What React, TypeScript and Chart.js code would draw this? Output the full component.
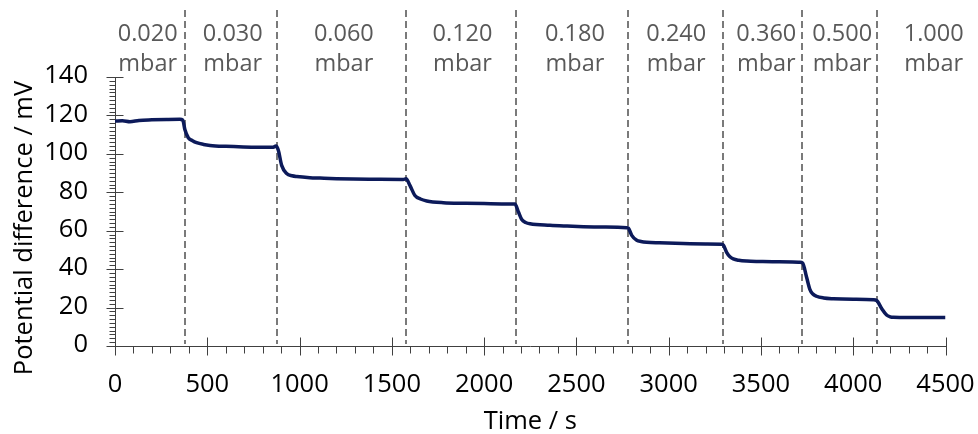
import React, { useEffect, useRef } from 'react';
import { Chart, registerables } from 'chart.js';

Chart.register(...registerables);

// ---- data ----
const times = [0, 40, 81, 130, 200, 280, 352, 367, 379, 397, 420, 442, 480, 515, 600, 695, 780, 858, 872, 885, 903, 930, 960, 985, 1056, 1111, 1200, 1291, 1400, 1562, 1577, 1598, 1625, 1655, 1689, 1779, 1900, 2000, 2140, 2167, 2186, 2204, 2225, 2249, 2357, 2450, 2538, 2650, 2773, 2782, 2800, 2827, 2850, 2881, 2950, 3079, 3200, 3287, 3296, 3314, 3332, 3350, 3380, 3423, 3495, 3600, 3711, 3726, 3747, 3765, 3780, 3801, 3840, 3892, 4000, 4109, 4127, 4154, 4181, 4200, 4217, 4300, 4400, 4500];
const potential = [117.1, 117.2, 116.7, 117.4, 117.7, 117.9, 118.0, 117.6, 112.5, 108.4, 106.8, 105.8, 104.9, 104.4, 103.9, 103.6, 103.5, 103.5, 104.1, 101.9, 94.0, 89.8, 88.6, 88.2, 87.6, 87.4, 87.1, 86.9, 86.8, 86.7, 87.0, 83.6, 78.3, 76.5, 75.5, 74.6, 74.3, 74.1, 73.9, 73.9, 69.7, 65.8, 64.3, 63.6, 62.8, 62.4, 62.1, 61.9, 61.6, 61.3, 57.6, 55.0, 54.4, 54.0, 53.7, 53.3, 53.1, 53.0, 52.6, 48.7, 46.4, 45.3, 44.6, 44.2, 44.0, 43.8, 43.6, 43.2, 35.9, 29.5, 27.2, 25.9, 25.0, 24.6, 24.3, 24.1, 23.7, 19.5, 16.1, 15.2, 14.9, 14.8, 14.8, 14.8];
const boundaries = [379, 876, 1578, 2172, 2782, 3296, 3725, 4130];
const pressureLabels = ['0.020', '0.030', '0.060', '0.120', '0.180', '0.240', '0.360', '0.500', '1.000'];
const pressureUnit = 'mbar';
const labelTimes = [177, 638, 1240, 1883, 2492, 3041, 3529, 3940, 4436];
const xMin = 0, xMax = 4500, xStep = 500, xMinorStep = 100;
const yMin = 0, yMax = 140, yStep = 20, yMinorStep = 2;
const xTitle = 'Time / s';
const yTitle = 'Potential difference / mV';

const FONT = "'Open Sans', sans-serif";
const AXIS = '#404040';

const overlay = {
  id: 'overlay',
  beforeDatasetsDraw(chart: any) {
    const { ctx, chartArea, scales } = chart;
    const xs = scales.x;
    ctx.save();
    ctx.strokeStyle = '#7a7a7a';
    ctx.lineWidth = 2;
    ctx.setLineDash([7, 4]);
    boundaries.forEach((b) => {
      const px = Math.round(xs.getPixelForValue(b));
      ctx.beginPath();
      ctx.moveTo(px, 10);
      ctx.lineTo(px, chartArea.bottom - 2);
      ctx.stroke();
    });
    ctx.restore();
  },
  afterDraw(chart: any) {
    const { ctx, chartArea, scales } = chart;
    const xs = scales.x, ys = scales.y;
    ctx.save();
    ctx.strokeStyle = AXIS;
    ctx.lineWidth = 1;
    const L = chartArea.left, B = chartArea.bottom;
    for (let v = yMin; v <= yMax + 1e-9; v += yMinorStep) {
      const py = Math.round(ys.getPixelForValue(v)) + 0.5;
      const major = Math.abs(v / yStep - Math.round(v / yStep)) < 1e-6;
      ctx.beginPath();
      ctx.moveTo(Math.round(L) + 0.5 - (major ? 9 : 6), py);
      ctx.lineTo(Math.round(L) + 0.5 + (major ? 8 : 0), py);
      ctx.stroke();
    }
    for (let v = xMin; v <= xMax + 1e-9; v += xMinorStep) {
      const px = Math.round(xs.getPixelForValue(v)) + 0.5;
      const major = Math.abs(v / xStep - Math.round(v / xStep)) < 1e-6;
      ctx.beginPath();
      ctx.moveTo(px, Math.round(B) + 0.5 - (major ? 9 : 0));
      ctx.lineTo(px, Math.round(B) + 0.5 + (major ? 9 : 7));
      ctx.stroke();
    }
    // y tick labels (from the library's tick list)
    ctx.fillStyle = '#000000';
    ctx.font = `25.5px ${FONT}`;
    ctx.textAlign = 'right';
    ctx.textBaseline = 'middle';
    ys.ticks.forEach((t: any) => {
      ctx.fillText(String(t.value), L - 27, ys.getPixelForValue(t.value) - 1);
    });
    // top pressure labels
    ctx.fillStyle = '#595959';
    ctx.font = `23.5px ${FONT}`;
    ctx.textAlign = 'center';
    ctx.textBaseline = 'alphabetic';
    pressureLabels.forEach((lab, i) => {
      const px = xs.getPixelForValue(labelTimes[i]);
      ctx.fillText(lab, px, 40.5);
      ctx.fillText(pressureUnit, px, 70.5);
    });
    // y title
    ctx.fillStyle = '#000000';
    ctx.font = `25.5px ${FONT}`;
    ctx.translate(31.5, 228);
    ctx.rotate(-Math.PI / 2);
    ctx.textAlign = 'center';
    ctx.fillText(yTitle, 0, 0);
    ctx.restore();
  },
};

export default function App() {
  const ref = useRef<HTMLCanvasElement>(null);
  useEffect(() => {
    document.body.style.margin = '0';
    Chart.defaults.font.family = FONT;
    const chart = new Chart(ref.current!, {
      type: 'line',
      data: {
        datasets: [
          {
            data: times.map((t, i) => ({ x: t, y: potential[i] })),
            borderColor: '#0c1a5a',
            borderWidth: 3.5,
            pointRadius: 0,
            cubicInterpolationMode: 'monotone',
            fill: false,
          },
        ],
      },
      options: {
        animation: false,
        responsive: false,
        devicePixelRatio: 1,
        layout: { padding: { left: 0, right: 32.5, top: 77, bottom: 0 } },
        plugins: { legend: { display: false }, tooltip: { enabled: false }, title: { display: false } },
        scales: {
          x: {
            type: 'linear',
            min: xMin,
            max: xMax,
            grid: { display: false, drawTicks: false },
            border: { display: true, color: AXIS, width: 1 },
            ticks: {
              stepSize: xStep,
              color: '#000000',
              padding: 26,
              maxRotation: 0,
              autoSkip: false,
              font: { size: 25.5, lineHeight: 1 },
              callback: (v: any) => String(v),
            },
            title: {
              display: true,
              text: xTitle,
              color: '#000000',
              font: { size: 25.5, lineHeight: 1 },
              padding: { top: 0, bottom: 0 },
            },
            afterFit(scale: any) {
              scale.height = 88;
              scale.paddingLeft = 0;
              scale.paddingRight = 0;
            },
          },
          y: {
            type: 'linear',
            min: yMin,
            max: yMax,
            grid: { display: false, drawTicks: false },
            border: { display: true, color: AXIS, width: 1 },
            ticks: {
              stepSize: yStep,
              display: false,
            },
            afterFit(scale: any) {
              scale.width = 115;
              scale.paddingTop = 0;
              scale.paddingBottom = 0;
            },
          },
        },
      },
      plugins: [overlay],
    });
    return () => chart.destroy();
  }, []);
  return (
    <div style={{ width: 978, height: 434 }}>
      <canvas ref={ref} width={978} height={434} style={{ display: 'block' }} />
    </div>
  );
}
